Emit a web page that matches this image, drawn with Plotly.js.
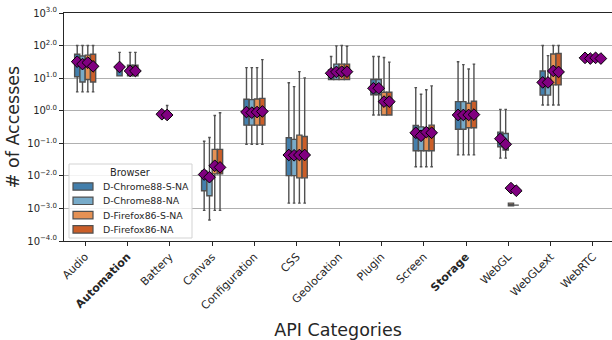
<!DOCTYPE html>
<html><head><meta charset="utf-8">
<script src="https://cdn.plot.ly/plotly-3.0.1.min.js"></script>
<style>html,body{margin:0;padding:0;background:#fff}</style>
</head><body><div id="chart" style="width:612px;height:340px"></div>
<script>
const categories = ["Audio","Automation","Battery","Canvas","Configuration","CSS","Geolocation","Plugin","Screen","Storage","WebGL","WebGLext","WebRTC"];
const boldCategories = ["Automation","Storage"];
const browsers = ["D-Chrome88-S-NA","D-Chrome88-NA","D-Firefox86-S-NA","D-Firefox86-NA"];
const colors = ["#437fac","#78abc9","#e59154","#cb5e28"];
const legendTitle = "Browser";

// one row per browser, one column per category
const lowerValues = [
  [3.8, 11.7, 0.77, 0.00087, 0.093, 0.00145, 9.1, 0.74, 0.019, 0.044, 0.035, 1.5, 38],
  [3.8, null, 0.72, 0.00044, 0.093, 0.00145, 9.1, 0.74, 0.019, 0.044, 0.035, 1.5, 38],
  [3.8, 11.7, null, 0.00087, 0.093, 0.00145, 9.1, 0.74, 0.019, 0.044, 0.0012, 1.5, 38],
  [3.8, 11.7, null, 0.00087, 0.093, 0.00145, 9.1, 0.74, 0.019, 0.044, 0.00126, 1.5, 38]
];
const q1Values = [
  [11, 11.7, 0.77, 0.0035, 0.36, 0.0102, 9.1, 3.1, 0.059, 0.27, 0.078, 3.0, 38],
  [7.6, null, 0.72, 0.00245, 0.36, 0.0102, 9.1, 3.1, 0.059, 0.27, 0.062, 3.0, 38],
  [9.1, 11.7, null, 0.0115, 0.36, 0.0087, 9.1, 0.74, 0.059, 0.30, 0.0012, 6.2, 38],
  [7.6, 11.7, null, 0.0115, 0.36, 0.0087, 9.1, 0.74, 0.059, 0.30, 0.00126, 6.2, 38]
];
const medianValues = [
  [30, 20, 0.78, 0.011, 0.9, 0.044, 14, 4.9, 0.2, 0.74, 0.14, 7.4, 40],
  [27, null, 0.74, 0.009, 0.87, 0.043, 15, 4.9, 0.17, 0.74, 0.093, 7.4, 40],
  [30, 16, null, 0.02, 0.9, 0.044, 15, 1.9, 0.22, 0.74, 0.0013, 16, 40],
  [23, 16, null, 0.018, 0.95, 0.044, 15, 1.9, 0.21, 0.76, 0.00126, 15, 40]
];
const q3Values = [
  [54, 26, 0.79, 0.0141, 2.24, 0.148, 17.8, 9.1, 0.35, 1.9, 0.22, 16.6, 40],
  [48, null, 0.76, 0.0093, 2.19, 0.132, 27, 9.1, 0.32, 1.9, 0.20, 8.7, 40],
  [51, 25, null, 0.065, 2.29, 0.178, 27, 3.7, 0.30, 1.7, 0.00145, 55, 40],
  [54, 25, null, 0.065, 2.4, 0.162, 27, 3.7, 0.36, 1.95, 0.00126, 57, 40]
];
const upperValues = [
  [100, 62, 0.79, 0.115, 21, 7.2, 46, 46, 5.1, 32, 1.1, 100, 42],
  [100, null, 1.45, 0.151, 21, 5.5, 98, 46, 3.2, 26, 1.1, 49, 40],
  [100, 62, null, 0.71, 21, 15.8, 100, 43, 4.4, 19, 0.00145, 100, 42],
  [100, 62, null, 0.87, 37, 10.2, 95, 31, 5.8, 27, 0.00126, 100, 40]
];
const meanValues = [
  [32, 22, 0.78, 0.011, 0.91, 0.0437, 14.1, 4.9, 0.21, 0.74, 0.138, 7.4, 42],
  [27, null, 0.74, 0.0091, 0.87, 0.0427, 15.5, 4.9, 0.17, 0.74, 0.093, 7.4, 40],
  [30, 16.6, null, 0.0204, 0.91, 0.0437, 15.8, 1.9, 0.22, 0.74, 0.0042, 16.6, 42],
  [23, 16.6, null, 0.0182, 0.95, 0.0437, 15.8, 1.9, 0.21, 0.76, 0.0035, 15.5, 40]
];
const yTickValues = [1e-4, 1e-3, 1e-2, 1e-1, 1, 10, 100, 1000];
const yTickText = ["10<sup>\u22124.0</sup>","10<sup>\u22123.0</sup>","10<sup>\u22122.0</sup>","10<sup>\u22121.0</sup>","10<sup>0.0</sup>","10<sup>1.0</sup>","10<sup>2.0</sup>","10<sup>3.0</sup>"];

const W = 612, H = 340;
const M = {l: 64, r: 0, t: 13, b: 99};
const groupWidth = 0.5;
const boxWidth = groupWidth / browsers.length;
const FONT = "DejaVu Sans, sans-serif";
const EDGE = "#505050";

const boxTraces = [];
const meanTraces = [];
browsers.forEach((name, h) => {
  const offset = -groupWidth / 2 + boxWidth * (h + 0.5);
  const idx = categories.map((_, i) => i).filter(i => q1Values[h][i] !== null);
  boxTraces.push({
    type: "box", name: name, showlegend: false,
    x: idx.map(i => i + offset),
    q1: idx.map(i => q1Values[h][i]),
    median: idx.map(i => medianValues[h][i]),
    q3: idx.map(i => q3Values[h][i]),
    lowerfence: idx.map(i => lowerValues[h][i]),
    upperfence: idx.map(i => upperValues[h][i]),
    width: boxWidth * 0.98,
    whiskerwidth: 0.5,
    boxpoints: false,
    fillcolor: colors[h],
    line: {color: EDGE, width: 1.4},
    hoverinfo: "skip"
  });
  meanTraces.push({
    type: "scatter", mode: "markers", showlegend: false,
    x: idx.map(i => i + offset),
    y: idx.map(i => meanValues[h][i]),
    marker: {symbol: "diamond", size: 9, color: "#800080", line: {color: "#000", width: 1}},
    hoverinfo: "skip"
  });
});

// custom legend box (pixel placement converted to paper coordinates)
const plotW = W - M.l - M.r, plotH = H - M.t - M.b;
const px = x => (x - M.l) / plotW;
const py = y => (H - M.b - y) / plotH;
const leg = {x0: 69, x1: 192, y0: 164, y1: 238, swX0: 73, swX1: 93, textX: 101, firstY: 186.5, step: 14.3, swH: 7.4, titleY: 172.5};
const shapes = [{
  type: "rect", xref: "paper", yref: "paper", layer: "above",
  x0: px(leg.x0), x1: px(leg.x1), y0: py(leg.y1), y1: py(leg.y0),
  fillcolor: "rgba(255,255,255,0.85)", line: {color: "#d3d3d3", width: 1}
}];
const annotations = [{
  xref: "paper", yref: "paper", x: px((leg.x0 + leg.x1) / 2), y: py(leg.titleY),
  text: legendTitle, showarrow: false, xanchor: "center", yanchor: "middle",
  font: {family: FONT, size: 9.8, color: "#262626"}
}];
browsers.forEach((name, h) => {
  const cy = leg.firstY + leg.step * h;
  shapes.push({
    type: "rect", xref: "paper", yref: "paper", layer: "above",
    x0: px(leg.swX0), x1: px(leg.swX1), y0: py(cy + leg.swH / 2), y1: py(cy - leg.swH / 2),
    fillcolor: colors[h], line: {color: EDGE, width: 1.2}
  });
  annotations.push({
    xref: "paper", yref: "paper", x: px(leg.textX), y: py(cy),
    text: name, showarrow: false, xanchor: "left", yanchor: "middle",
    font: {family: FONT, size: 9.4, color: "#262626"}
  });
});

const layout = {
  width: W, height: H,
  margin: M,
  paper_bgcolor: "#fff", plot_bgcolor: "#fff",
  font: {family: FONT, color: "#262626", size: 10},
  showlegend: false,
  boxmode: "overlay",
  shapes: shapes,
  annotations: annotations,
  xaxis: {
    range: [-0.5, 12.45],
    tickmode: "array",
    tickvals: categories.map((_, i) => i),
    ticktext: categories.map(c => boldCategories.includes(c) ? "<b>" + c + "</b>" : c),
    tickangle: -45,
    ticks: "outside", ticklen: 4, tickcolor: "#262626",
    showgrid: false, zeroline: false,
    showline: true, linecolor: "#262626", linewidth: 1, mirror: true,
    tickfont: {family: FONT, size: 11, color: "#262626"},
    title: {text: "API Categories", font: {family: FONT, size: 17.5, color: "#262626"}, standoff: 15}
  },
  yaxis: {
    type: "log", range: [-4, 3],
    tickmode: "array", tickvals: yTickValues, ticktext: yTickText,
    ticks: "outside", ticklen: 4, tickcolor: "#262626",
    showgrid: true, gridcolor: "#b0b0b0", gridwidth: 1, zeroline: false,
    showline: true, linecolor: "#262626", linewidth: 1, mirror: true,
    tickfont: {family: FONT, size: 10, color: "#262626"},
    title: {text: "# of Accesses", font: {family: FONT, size: 17.5, color: "#262626"}, standoff: 3}
  }
};

Plotly.newPlot("chart", boxTraces.concat(meanTraces), layout, {displayModeBar: false, staticPlot: true});
</script>
</body></html>
